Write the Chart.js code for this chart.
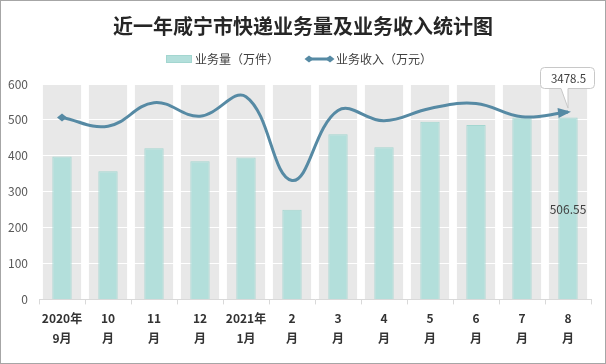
<!DOCTYPE html>
<html>
<head>
<meta charset="utf-8">
<script src="https://cdn.jsdelivr.net/npm/chart.js@4.4.1/dist/chart.umd.min.js"></script>
<style>
  html, body { margin: 0; padding: 0; background: #fff; }
  canvas { display: block; }
</style>
</head>
<body>
<canvas id="chart" width="606" height="364"></canvas>
<script>
// categories
const months = [
  ['2020年', '9月'], ['10', '月'], ['11', '月'], ['12', '月'],
  ['2021年', '1月'], ['2', '月'], ['3', '月'], ['4', '月'],
  ['5', '月'], ['6', '月'], ['7', '月'], ['8', '月']
];

// 业务量（万件）
const volume = [398, 357, 421, 385, 395, 250, 460, 424, 495, 486, 507, 506.55];

// 业务收入（万元）
const revenue = [3378, 3216, 3653, 3403, 3765, 2208, 3509, 3317, 3546, 3640, 3392, 3478.5];

const volumeTicks = [0, 100, 200, 300, 400, 500, 600];

const titleText = '近一年咸宁市快递业务量及业务收入统计图';
const barName = '业务量（万件）';
const lineName = '业务收入（万元）';

const barColor = '#b3dfdb';
const barBorder = '#a3d6d0';
const lineColor = '#568aa4';
const cjk = '"Noto Sans CJK SC", "Microsoft YaHei", sans-serif';

function drawArrow(ctx, x, y, dx, dy, len, half) {
  const d = Math.hypot(dx, dy) || 1;
  const ux = dx / d, uy = dy / d;
  ctx.beginPath();
  ctx.moveTo(x + ux * 3, y + uy * 3);
  ctx.lineTo(x - ux * len - uy * half, y - uy * len + ux * half);
  ctx.lineTo(x - ux * len + uy * half, y - uy * len - ux * half);
  ctx.closePath();
  ctx.fill();
}

function drawDiamond(ctx, x, y, r) {
  ctx.beginPath();
  ctx.moveTo(x - r, y);
  ctx.lineTo(x, y - r * 0.8);
  ctx.lineTo(x + r, y);
  ctx.lineTo(x, y + r * 0.8);
  ctx.closePath();
  ctx.fill();
}

const decor = {
  id: 'decor',
  beforeDraw(chart) {
    const { ctx, chartArea } = chart;
    const xs = chart.scales.x;
    ctx.save();
    ctx.fillStyle = '#fff';
    ctx.fillRect(0, 0, chart.width, chart.height);
    // grey column behind each category
    const band = (xs.right - xs.left) / months.length;
    const w = band * 0.83;
    ctx.fillStyle = '#e8e8e8';
    months.forEach((m, i) => {
      const cx = xs.getPixelForValue(i);
      ctx.fillRect(cx - w / 2, chartArea.top, w, chartArea.bottom - chartArea.top);
    });
    // title
    ctx.fillStyle = '#262626';
    ctx.font = 'bold 20px ' + cjk;
    ctx.textAlign = 'center';
    ctx.textBaseline = 'middle';
    ctx.fillText(titleText, 303, 26);
    // legend
    const ly = 59;
    ctx.fillStyle = barColor;
    ctx.fillRect(166, ly - 4, 26, 8);
    ctx.strokeStyle = barBorder;
    ctx.lineWidth = 1;
    ctx.strokeRect(166.5, ly - 3.5, 25, 7);
    ctx.fillStyle = '#404040';
    ctx.font = '12px ' + cjk;
    ctx.textAlign = 'left';
    ctx.fillText(barName, 195, ly);
    ctx.strokeStyle = lineColor;
    ctx.lineWidth = 3;
    ctx.beginPath();
    ctx.moveTo(308, ly);
    ctx.lineTo(330, ly);
    ctx.stroke();
    ctx.fillStyle = lineColor;
    drawDiamond(ctx, 309, ly, 4.5);
    drawDiamond(ctx, 330, ly, 4.5);
    ctx.fillStyle = '#404040';
    ctx.fillText(lineName, 336, ly);
    ctx.restore();
  },
  afterDatasetsDraw(chart) {
    const { ctx } = chart;
    const lineMeta = chart.getDatasetMeta(1);
    const pts = lineMeta.data;
    ctx.save();
    ctx.fillStyle = lineColor;
    // start marker and end arrow
    const p0 = pts[0];
    drawDiamond(ctx, p0.x, p0.y, 5);
    const pn = pts[pts.length - 1];
    const cpx = pn.cp1x !== undefined ? pn.cp1x : pts[pts.length - 2].x;
    const cpy = pn.cp1y !== undefined ? pn.cp1y : pts[pts.length - 2].y;
    drawArrow(ctx, pn.x, pn.y, pn.x - cpx, pn.y - cpy, 10, 5);

    // value label inside the last bar
    const barMeta = chart.getDatasetMeta(0);
    const lb = barMeta.data[barMeta.data.length - 1];
    ctx.fillStyle = '#404040';
    ctx.font = '12px ' + cjk;
    ctx.textAlign = 'center';
    ctx.textBaseline = 'middle';
    ctx.fillText(String(volume[volume.length - 1]), lb.x, 209);

    // callout for the last revenue value
    const bx = 540.5, by = 67.5, bw = 54, bh = 21, r = 4;
    ctx.beginPath();
    ctx.moveTo(bx + r, by);
    ctx.lineTo(bx + bw - r, by);
    ctx.arcTo(bx + bw, by, bx + bw, by + r, r);
    ctx.lineTo(bx + bw, by + bh - r);
    ctx.arcTo(bx + bw, by + bh, bx + bw - r, by + bh, r);
    ctx.lineTo(pn.x, by + bh);
    ctx.lineTo(pn.x, pn.y - 4);
    ctx.lineTo(pn.x - 7, by + bh);
    ctx.lineTo(bx + r, by + bh);
    ctx.arcTo(bx, by + bh, bx, by + bh - r, r);
    ctx.lineTo(bx, by + r);
    ctx.arcTo(bx, by, bx + r, by, r);
    ctx.closePath();
    ctx.fillStyle = '#fff';
    ctx.fill();
    ctx.strokeStyle = '#c8c8c8';
    ctx.lineWidth = 1;
    ctx.stroke();
    ctx.fillStyle = '#404040';
    ctx.font = '11.5px ' + cjk;
    ctx.fillText(String(revenue[revenue.length - 1]), bx + bw / 2 + 1, by + bh / 2 + 0.5);
    ctx.restore();
  },
  afterDraw(chart) {
    const { ctx } = chart;
    ctx.save();
    ctx.strokeStyle = '#a6a6a6';
    ctx.lineWidth = 1;
    ctx.strokeRect(0.5, 0.5, chart.width - 1, chart.height - 1);
    ctx.restore();
  }
};

const chart = new Chart(document.getElementById('chart'), {
  type: 'bar',
  data: {
    labels: months,
    datasets: [
      {
        type: 'bar',
        label: barName,
        data: volume,
        backgroundColor: barColor,
        borderColor: barBorder,
        borderWidth: 1,
        categoryPercentage: 1,
        barPercentage: 0.42,
        yAxisID: 'y',
        order: 2,
      },
      {
        type: 'line',
        label: lineName,
        data: revenue,
        borderColor: lineColor,
        borderWidth: 3,
        tension: 0.4,
        pointRadius: 0,
        fill: false,
        yAxisID: 'y1',
        order: 1,
      },
    ]
  },
  options: {
    responsive: false,
    animation: false,
    layout: {
      padding: { left: 0, right: 15, top: 84, bottom: 12 }
    },
    scales: {
      x: {
        grid: {
          offset: true,
          drawOnChartArea: false,
          drawTicks: true,
          tickLength: 5,
          color: '#d9d9d9',
        },
        border: { color: '#d9d9d9' },
        ticks: {
          color: '#333333',
          maxRotation: 0,
          autoSkip: false,
          padding: 4,
          font: { family: cjk, size: 12, weight: 'bold', lineHeight: 1.65 },
        },
      },
      y: {
        min: volumeTicks[0],
        max: volumeTicks[volumeTicks.length - 1],
        afterBuildTicks: (scale) => {
          scale.ticks = volumeTicks.map(v => ({ value: v }));
        },
        afterFit: (scale) => { scale.width = 39; },
        grid: { color: '#ffffff', lineWidth: 1, drawTicks: false },
        border: { display: false },
        ticks: {
          color: '#595959',
          padding: 11,
          font: { family: cjk, size: 12 },
        },
      },
      y1: {
        display: false,
        min: 0,
        max: 4000,
        position: 'right',
      },
    },
    plugins: {
      legend: { display: false },
      tooltip: { enabled: false },
    },
  },
  plugins: [decor]
});
</script>
</body>
</html>
